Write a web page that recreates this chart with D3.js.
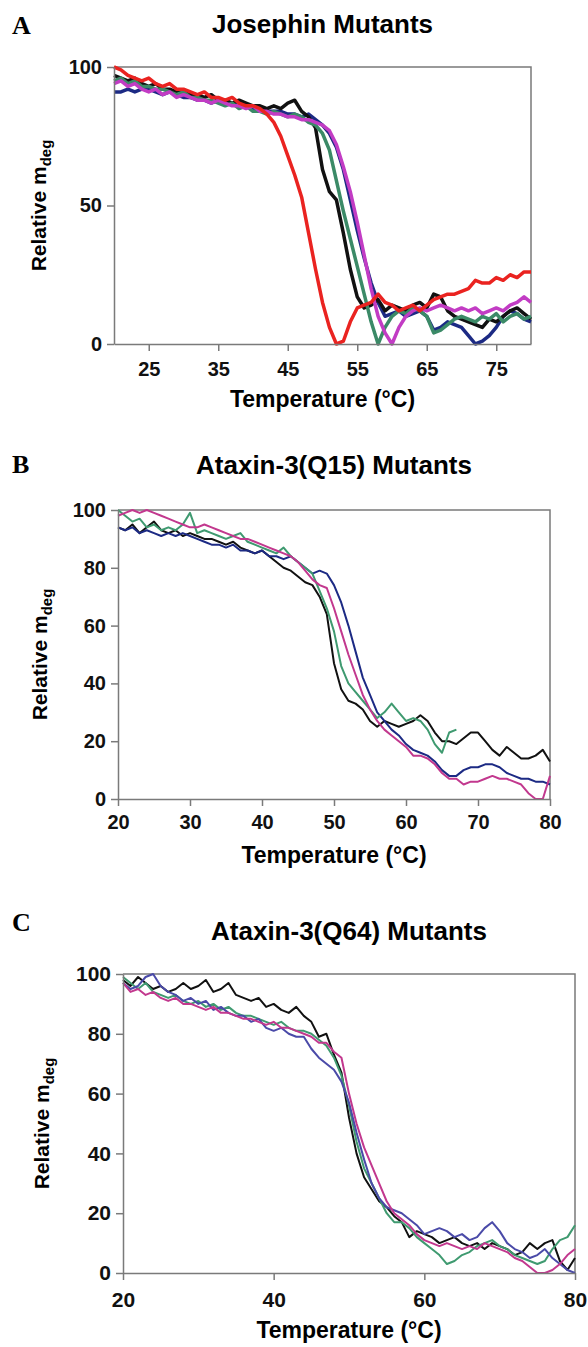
<!DOCTYPE html>
<html>
<head>
<meta charset="utf-8">
<script src="https://cdn.jsdelivr.net/npm/d3@7"></script>
<style>
  body { margin: 0; background: #fff; }
  svg { display: block; }
  .tick text { font-family: "Liberation Sans", Arial, sans-serif; font-weight: bold; fill: #111; }
  .domain, .tick line { stroke: #7a7a7a; stroke-width: 1.5; }
</style>
</head>
<body>
<svg id="chart" width="588" height="1347"></svg>
<script>
// temperature grid (°C), one reading per degree
var temps = [20,21,22,23,24,25,26,27,28,29,30,31,32,33,34,35,36,37,38,39,40,
             41,42,43,44,45,46,47,48,49,50,51,52,53,54,55,56,57,58,59,60,
             61,62,63,64,65,66,67,68,69,70,71,72,73,74,75,76,77,78,79,80];

// panel A - Josephin mutants
var a_red = [100,99,97,96,95,96,94,93,94,92,92,91,90,91,89,89,88,89,87,86,86,
             85,83,80,75,68,61,53,40,27,15,6,0,1,8,13,14,15,18,15,14,
             12,13,14,12,14,16,17,18,18,19,20,23,22,22,24,23,25,24,26,26];
var a_black = [97,96,95,96,94,93,94,92,92,91,91,90,90,89,90,88,88,87,88,87,86,
               86,85,86,85,87,88,84,82,78,63,55,52,40,27,17,13,14,16,12,14,
               13,12,14,15,13,18,17,12,10,9,8,7,6,9,8,10,12,13,11,9];
var a_blue = [91,91,92,91,92,92,91,90,91,90,89,89,88,88,87,88,87,87,86,86,85,
              85,84,84,84,83,83,82,83,81,79,76,71,63,52,41,31,22,15,10,11,
              12,10,11,12,10,5,6,8,7,6,3,0,1,3,6,10,12,11,9,8];
var a_green = [95,96,94,95,93,93,92,92,91,90,91,89,89,88,88,87,86,87,85,86,84,
               84,83,84,83,82,83,82,80,79,76,70,59,48,38,28,18,8,0,6,10,
               12,11,13,12,10,4,5,7,9,10,9,8,10,9,11,8,10,11,9,10];
var a_magenta = [94,95,93,94,92,91,92,90,91,89,90,89,88,88,87,88,87,86,86,85,86,
                 84,84,83,83,82,82,81,81,80,79,77,72,64,55,44,32,20,10,4,0,
                 6,10,12,13,12,13,14,13,12,13,12,13,11,12,13,12,14,15,17,15];

// panel B - Ataxin-3(Q15) mutants
var b_black = [94,93,95,92,94,96,93,92,93,91,92,91,90,90,89,88,89,87,86,85,86,
               84,82,80,79,77,75,74,70,64,47,38,34,33,31,27,25,27,26,25,26,
               27,29,27,23,20,20,19,21,23,23,20,17,15,18,16,14,14,15,17,13];
var b_navy = [94,93,94,92,93,92,91,92,91,92,91,90,89,88,88,87,88,86,86,85,86,
              84,84,83,84,82,80,78,79,78,74,68,60,51,42,36,30,27,24,22,19,
              17,16,15,13,10,8,8,10,11,11,12,12,11,9,8,7,7,6,6,5];
var b_green = [100,98,96,97,94,95,93,94,93,95,99,92,93,92,91,90,91,92,89,88,87,
               86,85,87,84,82,80,78,72,66,58,46,40,37,34,31,28,30,33,30,27,
               28,27,24,19,16,23,24];
var b_magenta = [98,99,100,99,100,99,98,97,96,95,94,94,95,94,93,92,91,90,90,89,88,
                 87,86,85,84,82,79,76,74,73,66,58,50,43,36,31,27,24,22,20,18,
                 15,15,14,12,9,7,7,5,6,6,7,8,7,7,6,5,2,0,0,8];

// panel C - Ataxin-3(Q64) mutants
var c_black = [98,96,99,97,95,96,94,95,97,95,96,98,94,95,97,93,92,91,92,89,90,
               88,87,89,86,84,79,80,73,67,52,40,32,28,24,22,19,17,12,14,13,
               12,10,11,12,10,9,10,8,10,9,8,6,7,10,8,10,11,4,1,5];
var c_navy = [97,95,96,99,100,96,94,93,91,92,90,91,88,89,87,86,86,84,85,82,81,
              82,80,79,79,75,72,70,68,64,57,47,38,30,25,22,21,20,18,16,13,
              14,15,14,12,13,11,12,15,17,14,10,8,7,5,6,8,5,3,1,0];
var c_green = [99,97,95,97,94,93,92,93,91,90,91,89,90,88,89,87,86,86,85,84,83,
               84,82,81,81,80,78,76,72,66,56,44,35,30,25,20,17,17,15,12,10,
               8,6,3,4,6,7,9,10,11,9,8,6,5,4,3,4,8,11,12,16];
var c_magenta = [97,94,95,93,94,92,91,92,90,90,89,88,89,87,87,86,85,85,84,83,84,
                 82,82,81,80,79,77,77,74,72,60,50,42,36,30,24,20,18,16,13,11,
                 10,9,10,9,8,9,8,10,9,8,7,5,4,2,0,0,1,3,6,8];

var a_xticks = [25, 35, 45, 55, 65, 75];
var a_yticks = [0, 50, 100];
var b_xticks = [20, 30, 40, 50, 60, 70, 80];
var b_yticks = [0, 20, 40, 60, 80, 100];
var c_xticks = [20, 40, 60, 80];
var c_yticks = [0, 20, 40, 60, 80, 100];

var svg = d3.select('#chart');

draw_panel({
    letter: 'A', title: 'Josephin Mutants',
    left: 114, right: 531, top: 67, bottom: 344,
    title_y: 33, letter_y: 34,
    tick_size: 20, xpad: 11, label_x: 46, xlabel_y: 407,
    xticks: a_xticks, yticks: a_yticks, stroke: 3.5,
    series: [
        {values: a_blue, color: '#1c2a84'},
        {values: a_black, color: '#111111'},
        {values: a_green, color: '#3b8a67'},
        {values: a_magenta, color: '#c23cc4'},
        {values: a_red, color: '#ea2320'}
    ]
});

draw_panel({
    letter: 'B', title: 'Ataxin-3(Q15) Mutants',
    left: 118, right: 550, top: 510, bottom: 799,
    title_y: 474, letter_y: 473,
    tick_size: 20, xpad: 9, label_x: 47, xlabel_y: 863,
    xticks: b_xticks, yticks: b_yticks, stroke: 2,
    series: [
        {values: b_black, color: '#111111'},
        {values: b_navy, color: '#1c2a84'},
        {values: b_green, color: '#3f9a70'},
        {values: b_magenta, color: '#c2388e'}
    ]
});

draw_panel({
    letter: 'C', title: 'Ataxin-3(Q64) Mutants',
    left: 123, right: 575, top: 974, bottom: 1273,
    title_y: 940, letter_y: 931,
    tick_size: 21, xpad: 12, label_x: 49, xlabel_y: 1338,
    xticks: c_xticks, yticks: c_yticks, stroke: 2,
    series: [
        {values: c_black, color: '#111111'},
        {values: c_green, color: '#3f9a70'},
        {values: c_navy, color: '#4a4aa8'},
        {values: c_magenta, color: '#c2388e'}
    ]
});

function draw_panel(p){
    var g = svg.append('g');

    var x_scale = d3.scaleLinear().domain([20, 80]).range([p.left, p.right]);
    var y_scale = d3.scaleLinear().domain([0, 100]).range([p.bottom, p.top]);
    var mid = (p.left + p.right) / 2;

    // frame: top and right edges
    g.append('path')
        .attr('d', 'M' + p.left + ',' + p.top + 'H' + p.right + 'V' + p.bottom)
        .attr('fill', 'none').attr('stroke', '#7a7a7a').attr('stroke-width', 1.5);

    var line = d3.line()
        .x(function(d){ return x_scale(d[0]); })
        .y(function(d){ return y_scale(d[1]); });

    p.series.forEach(function(s){
        var pts = s.values.map(function(v, i){ return [temps[i], v]; });
        g.append('path')
            .datum(pts)
            .attr('d', line)
            .attr('fill', 'none')
            .attr('stroke', s.color)
            .attr('stroke-width', p.stroke)
            .attr('stroke-linejoin', 'round');
    });

    var x_axis = g.append('g')
        .attr('transform', 'translate(0,' + p.bottom + ')')
        .call(d3.axisBottom(x_scale).tickValues(p.xticks).tickSize(7).tickPadding(p.xpad).tickSizeOuter(0));
    x_axis.selectAll('text').style('font-size', p.tick_size + 'px');

    var y_axis = g.append('g')
        .attr('transform', 'translate(' + p.left + ',0)')
        .call(d3.axisLeft(y_scale).tickValues(p.yticks).tickSize(7).tickPadding(5).tickSizeOuter(0));
    y_axis.selectAll('text').style('font-size', p.tick_size + 'px');

    // panel letter
    g.append('text')
        .attr('x', 12).attr('y', p.letter_y)
        .style('font-family', '"Liberation Serif", "Times New Roman", serif')
        .style('font-weight', 'bold').style('font-size', '26px')
        .text(p.letter);

    g.append('text')
        .attr('x', mid).attr('y', p.title_y)
        .attr('text-anchor', 'middle')
        .style('font-family', '"Liberation Sans", Arial, sans-serif')
        .style('font-weight', 'bold').style('font-size', '26px')
        .text(p.title);

    g.append('text')
        .attr('x', mid).attr('y', p.xlabel_y)
        .attr('text-anchor', 'middle')
        .style('font-family', '"Liberation Sans", Arial, sans-serif')
        .style('font-weight', 'bold').style('font-size', '23px')
        .text('Temperature (\u00B0C)');

    var ylab = g.append('text')
        .attr('transform', 'translate(' + p.label_x + ',' + ((p.top + p.bottom) / 2) + ') rotate(-90)')
        .attr('text-anchor', 'middle')
        .style('font-family', '"Liberation Sans", Arial, sans-serif')
        .style('font-weight', 'bold').style('font-size', '21px');
    ylab.append('tspan').text('Relative m');
    ylab.append('tspan').attr('dy', 5).style('font-size', '15px').text('deg');
}
</script>
</body>
</html>
